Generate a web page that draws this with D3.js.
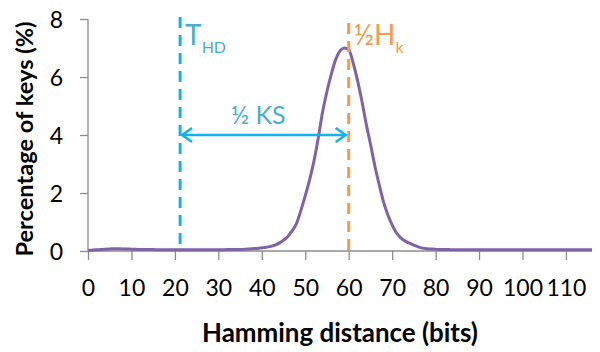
<!DOCTYPE html>
<html><head><meta charset="utf-8">
<script src="https://cdn.jsdelivr.net/npm/d3@7/dist/d3.min.js"></script>
<style>body{margin:0;background:#fff}svg{display:block}</style>
</head><body>
<svg id="c" width="600" height="352"></svg>
<script>
// Hamming distance (bits) 0..116 and percentage of keys (%)
const distance = d3.range(0, 117);
const percent = [
 0.02,0.03,0.04,0.05,0.06,0.07,0.08,0.08,0.07,0.07,
 0.06,0.06,0.05,0.05,0.05,0.05,0.04,0.04,0.04,0.04,
 0.04,0.04,0.04,0.04,0.04,0.04,0.04,0.04,0.04,0.04,
 0.04,0.04,0.05,0.05,0.05,0.05,0.06,0.07,0.08,0.09,
 0.11,0.13,0.16,0.20,0.27,0.37,0.50,0.70,0.95,1.40,
 1.90,2.45,3.10,3.90,4.80,5.50,6.10,6.60,6.90,7.00,
 6.95,6.50,5.90,5.20,4.40,3.70,2.95,2.30,1.70,1.25,
 0.90,0.62,0.45,0.34,0.27,0.20,0.14,0.10,0.08,0.07,
 0.06,0.05,0.05,0.05,0.04,0.04,0.04,0.04,0.04,0.04,
 0.04,0.04,0.04,0.04,0.04,0.04,0.04,0.04,0.04,0.04,
 0.04,0.04,0.04,0.04,0.04,0.04,0.04,0.04,0.04,0.04,
 0.04,0.04,0.04,0.04,0.04,0.04,0.04
];
const xTicks = [0,10,20,30,40,50,60,70,80,90,100,110];
const yTicks = [0,2,4,6,8];
const tHD = 21.2;   // threshold T_HD
const halfHk = 60;  // ½ H_k
const ksY = 4;      // arrow height

const svg = d3.select("#c");
const x = d3.scaleLinear().domain([0,116]).range([88,592]);
const y = d3.scaleLinear().domain([0,8]).range([251,19]);
const axisColor = "#8c8c8c";
const font = "Lato, 'Open Sans', sans-serif";

// axes
const gx = svg.append("g").attr("transform","translate(0,"+y(0)+")")
  .call(d3.axisBottom(x).tickValues(xTicks).tickSize(9).tickSizeOuter(0).tickPadding(20).tickFormat(d3.format("d")));
const gy = svg.append("g").attr("transform","translate("+x(0)+",0)")
  .call(d3.axisLeft(y).tickValues(yTicks).tickSize(8).tickSizeOuter(0).tickPadding(17).tickFormat(d3.format("d")));
[gx,gy].forEach(g=>{
  g.select(".domain").attr("stroke",axisColor).attr("stroke-width",1.3);
  g.selectAll(".tick line").attr("stroke",axisColor).attr("stroke-width",1.3);
  g.selectAll("text").attr("fill","#000").style("font-family",font).style("font-size","23px");
});
gx.select(".domain").attr("d","M"+x(0)+",0H"+x(116));
gy.select(".domain").attr("d","M0,"+y(0)+"V"+y(8));
gy.selectAll(".tick text").attr("dy","0.36em");

// data line
svg.append("path")
  .datum(distance.map((d,i)=>[d,percent[i]]))
  .attr("fill","none").attr("stroke","#7f63a8").attr("stroke-width",3)
  .attr("stroke-linejoin","round")
  .attr("d", d3.line().x(d=>x(d[0])).y(d=>y(d[1])).curve(d3.curveMonotoneX));

// dashed verticals
svg.append("line").attr("x1",x(tHD)).attr("x2",x(tHD)).attr("y1",17).attr("y2",y(0)+1)
  .attr("stroke","#13b2eb").attr("stroke-width",3).attr("stroke-dasharray","11,7");
svg.append("line").attr("x1",x(halfHk)).attr("x2",x(halfHk)).attr("y1",23).attr("y2",y(0)+4)
  .attr("stroke","#f79a4c").attr("stroke-width",3).attr("stroke-dasharray","11,7");

// double arrow
const ay = y(ksY), ax1 = x(tHD)+2, ax2 = x(halfHk)-3;
const arrowColor = "#13b2eb";
svg.append("line").attr("x1",ax1).attr("x2",ax2).attr("y1",ay).attr("y2",ay)
  .attr("stroke",arrowColor).attr("stroke-width",2.6);
svg.append("path").attr("d",`M${ax1+10},${ay-7}L${ax1},${ay}L${ax1+10},${ay+7}`)
  .attr("fill","none").attr("stroke",arrowColor).attr("stroke-width",2.6).attr("stroke-linejoin","miter");
svg.append("path").attr("d",`M${ax2-10},${ay-7}L${ax2},${ay}L${ax2-10},${ay+7}`)
  .attr("fill","none").attr("stroke",arrowColor).attr("stroke-width",2.6).attr("stroke-linejoin","miter");

// annotation texts
const tealText = "#4aaecb";
const t1 = svg.append("text").attr("x",x(tHD)+5).attr("y",45).attr("fill",tealText)
  .style("font-family",font).style("font-size","28px");
t1.append("tspan").text("T");
t1.append("tspan").attr("dy",8).style("font-size","16px").text("HD");

svg.append("text").attr("x",231).attr("y",124).attr("fill",tealText)
  .style("font-family",font).style("font-size","25px").text("½ KS");

const t2 = svg.append("text").attr("x",x(halfHk)+5).attr("y",45).attr("fill","#f79a4c")
  .style("font-family",font).style("font-size","28px");
t2.append("tspan").text("½H");
t2.append("tspan").attr("dy",8).style("font-size","16px").text("k");

// axis titles
function fit(sel, w){
  const l = sel.node().getComputedTextLength();
  const fs = parseFloat(sel.style("font-size"));
  sel.style("font-size", (fs*w/l).toFixed(2)+"px");
}
const xt = svg.append("text").attr("x",340).attr("y",342).attr("text-anchor","middle")
  .style("font-family",font).style("font-weight","bold").style("font-size","22px")
  .text("Hamming distance (bits)");
fit(xt, 276);
const yt = svg.append("text").attr("transform","translate(33,139) rotate(-90)").attr("text-anchor","middle")
  .style("font-family",font).style("font-weight","bold").style("font-size","22px")
  .text("Percentage of keys (%)");
fit(yt, 235);
</script>
</body></html>
